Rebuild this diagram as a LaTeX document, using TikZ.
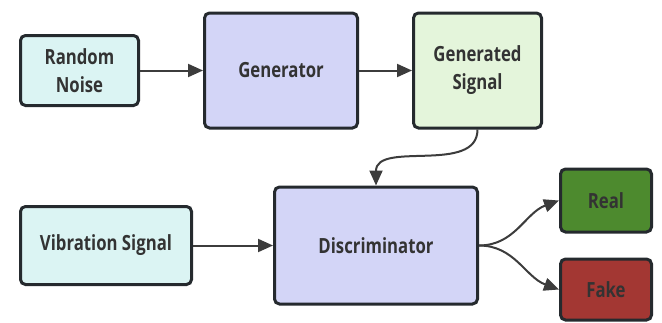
\documentclass[tikz,border=0pt]{standalone}
\usepackage{fontspec}
\setmainfont[FakeStretch=0.8]{Open Sans}
\usetikzlibrary{positioning,arrows.meta}

\definecolor{boxline}{HTML}{252A2E}
\definecolor{linkgray}{HTML}{3C3C3C}
\definecolor{textgray}{HTML}{333333}
\definecolor{noisefill}{HTML}{DBF4F3}
\definecolor{genfill}{HTML}{D3D5F7}
\definecolor{sigfill}{HTML}{E4F5DB}
\definecolor{realfill}{HTML}{4D8A2E}
\definecolor{fakefill}{HTML}{A33733}

\begin{document}
\begin{tikzpicture}[
                node distance=60bp,
                block/.style={draw=boxline,line width=3bp,rounded corners=5bp,
                    inner sep=0pt,align=center,text=textgray,
                    font=\bfseries\fontsize{21}{28}\selectfont},
                link/.style={draw=linkgray,line width=2bp,
                    -{Triangle[length=15bp,width=13bp]}}
            ]
                \useasboundingbox (0,0) rectangle (662bp,-323bp);
                \node (noise) [block,fill=noisefill,minimum width=118bp,minimum height=70bp]
                    at (79.5bp,-70.5bp) {Random\\Noise};
                \node (gen)   [block,fill=genfill,minimum width=153bp,minimum height=115bp,
                    right=63bp of noise] {Generator};
                \node (gsig)  [block,fill=sigfill,minimum width=128bp,minimum height=115bp,
                    right=53bp of gen] {Generated\\Signal};
                \node (vib)   [block,fill=noisefill,minimum width=171bp,minimum height=78bp,
                    below=98bp of noise.south west,anchor=north west] {Vibration Signal};
                \node (disc)  [block,fill=genfill,minimum width=203bp,minimum height=117bp,
                    right=80bp of vib] {Discriminator};
                \node (real)  [block,fill=realfill,minimum width=91bp,minimum height=63bp,
                    above right=45bp and 80bp of disc.east,anchor=west] {Real};
                \node (fake)  [block,fill=fakefill,minimum width=91bp,minimum height=61bp,
                    below right=44bp and 80bp of disc.east,anchor=west] {Fake};
                \draw[link] (noise) -- (gen);
                \draw[link] (gen) -- (gsig);
                \draw[link] (vib) -- (disc);
                \draw[link] (gsig.south) to[out=-90,in=90] (disc.north);
                \draw[link] (disc.east) to[out=0,in=200] (real.west);
                \draw[link] (disc.east) to[out=0,in=160] (fake.west);
            \end{tikzpicture}
\end{document}
